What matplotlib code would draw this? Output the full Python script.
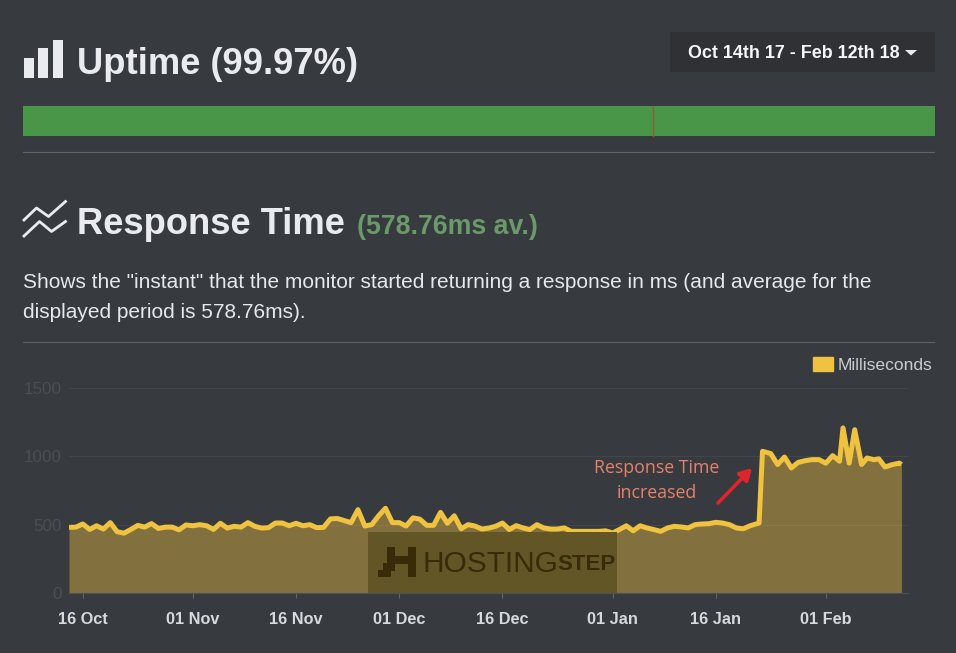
import matplotlib
matplotlib.use('Agg')
import matplotlib.pyplot as plt
from matplotlib.patches import Rectangle, Patch

plt.rcParams['font.family'] = ['Liberation Sans', 'DejaVu Sans']

# days since 14 Oct 2017, last stretch
days = list(range(100)) + [100.3, 100.8, 102, 103, 104, 105, 106, 107, 108, 109, 110, 111, 112,
                           112.5, 113.4, 114.2, 115.2, 116, 117, 117.7, 118.6, 119.7, 120.7, 121]
ms = [480, 482, 505, 465, 492, 468, 515, 448, 438, 465,
      495, 482, 508, 472, 482, 482, 462, 498, 492, 500,
      492, 465, 510, 475, 488, 482, 515, 488, 475, 478,
      512, 512, 492, 510, 492, 500, 478, 480, 542, 545,
      530, 515, 610, 490, 500, 565, 620, 515, 515, 490,
      550, 540, 495, 495, 590, 510, 565, 470, 500, 490,
      468, 475, 488, 512, 464, 493, 476, 464, 500, 476,
      468, 468, 476, 451, 451, 451, 451, 451, 455, 439,
      464, 492, 455, 492, 476, 464, 451, 476, 488, 483,
      476, 500, 505, 507, 517, 512, 500, 476, 470, 492,
      512, 1037, 1020, 940, 995, 915, 956, 968, 976, 976, 950, 1005, 964,
      1208, 950, 1195, 940, 988, 975, 982, 922, 940, 950, 940]
tick_days = [2, 18, 33, 48, 63, 79, 94, 110]
tick_labels = ['16 Oct', '01 Nov', '16 Nov', '01 Dec', '16 Dec', '01 Jan', '16 Jan', '01 Feb']
y_ticks = [0, 500, 1000, 1500]

BG = '#373a3e'
YEL = '#efc23f'
W, H = 956, 653

fig = plt.figure(figsize=(W / 100, H / 100), dpi=100, facecolor=BG)

# page furniture, in pixel coordinates
page = fig.add_axes([0, 0, 1, 1], zorder=0)
page.set_xlim(0, W)
page.set_ylim(H, 0)
page.axis('off')

for x0, x1, top in [(24.5, 34, 58), (38.5, 48, 48), (53, 63, 40)]:
    page.add_patch(Rectangle((x0, top), x1 - x0, 78 - top, color='#e9ebee', lw=0))
page.text(77, 64, 'Uptime (99.97%)', fontsize=26.2, fontweight='bold', color='#e9ebee', va='center')

page.add_patch(Rectangle((670, 32), 265, 40, color='#2f3135', lw=0))
page.text(688, 53, 'Oct 14th 17 - Feb 12th 18', fontsize=12.9, fontweight='bold', color='#f4f5f6', va='center')
page.fill([905, 917, 911], [50, 50, 55.5], color='#e9ebee', lw=0)

page.add_patch(Rectangle((23, 106), 912, 30, color='#4a9649', lw=0))
page.plot([653, 653], [106, 136], color='#8f5a30', lw=1)
page.plot([23, 934.5], [152, 152], color='#606367', lw=0.8)

page.plot([24, 36.5, 48.5, 65.5], [220, 208, 216.5, 201.5], color='#e9ebee', lw=2)
page.plot([24, 39.5, 51.5, 65.5], [236, 221.5, 231.5, 221.5], color='#e9ebee', lw=2)
page.text(77, 224, 'Response Time', fontsize=26.2, fontweight='bold', color='#e9ebee', va='center')
page.text(357, 227, '(578.76ms av.)', fontsize=19.3, fontweight='bold', color='#6a9a6a', va='center')

page.text(23, 282, 'Shows the "instant" that the monitor started returning a response in ms (and average for the',
          fontsize=15.05, color='#e6e8ea', va='center')
page.text(23, 312, 'displayed period is 578.76ms).', fontsize=15.05, color='#e6e8ea', va='center')
page.plot([23, 934.5], [342, 342], color='#606367', lw=0.8)

# the chart itself
ax = fig.add_axes([69 / W, 1 - 593 / H, (908 - 69) / W, (593 - 388) / H], zorder=1)
ax.patch.set_alpha(0)
ax.fill_between(days, ms, 0, color=YEL, alpha=0.41, lw=0)
ax.plot(days, ms, color=YEL, lw=3.6, solid_joinstyle='round', solid_capstyle='butt', label='Milliseconds')
ax.set_xlim(0, (908 - 69) / 6.88)
ax.set_ylim(0, 1500)
ax.set_xticks(tick_days)
ax.set_xticklabels(tick_labels, fontweight='bold', fontsize=11.7, color='#d6d9dd')
ax.set_yticks(y_ticks)
ax.tick_params(axis='x', length=3.5, width=0.8, color='#64676a', pad=10)
ax.tick_params(axis='y', length=0, pad=5, labelsize=12.3, labelcolor='#4b4e52')
ax.grid(axis='y', color='#434649', lw=0.8)
ax.set_axisbelow(True)
for side in ['top', 'right', 'left']:
    ax.spines[side].set_visible(False)
ax.spines['bottom'].set_color('#4d5054')

ax.legend(handles=[Patch(color=YEL, label='Milliseconds')], loc='upper right',
          bbox_to_anchor=(932 / W, 1 - 357 / H), bbox_transform=fig.transFigure,
          frameon=False, fontsize=12.6, labelcolor='#c9ccd0', borderpad=0, borderaxespad=0,
          handlelength=1.15, handleheight=0.85, handletextpad=0.25)

# watermark and note sit over the chart
top = fig.add_axes([0, 0, 1, 1], zorder=2)
top.set_xlim(0, W)
top.set_ylim(H, 0)
top.axis('off')

top.add_patch(Rectangle((368, 532), 249, 61, color='#625526', lw=0))
DARK = '#3a2b08'
for x0, y0, w, h in [(408, 547, 8, 30), (387, 547, 8, 24), (395, 556, 13, 8), (383, 563, 8, 8), (378, 570, 13, 7)]:
    top.add_patch(Rectangle((x0, y0), w, h, color=DARK, lw=0))
top.text(423, 564, 'HOSTING', fontsize=21.5, color=DARK, va='center')
top.text(557, 564, 'STEP', fontsize=16, fontweight='bold', color=DARK, va='center')

top.text(657, 480.5, 'Response Time\nincreased', fontsize=12.8, color='#e5826a', ha='center', va='center',
         family=['Open Sans', 'DejaVu Sans'], linespacing=1.5)
top.annotate('', xy=(752, 468), xytext=(718, 503),
             arrowprops=dict(arrowstyle='-|>,head_width=0.4,head_length=0.7', color='#e0242c', lw=2.6,
                             shrinkA=0, shrinkB=0))

fig.savefig('out.png', dpi=100, facecolor=BG)
